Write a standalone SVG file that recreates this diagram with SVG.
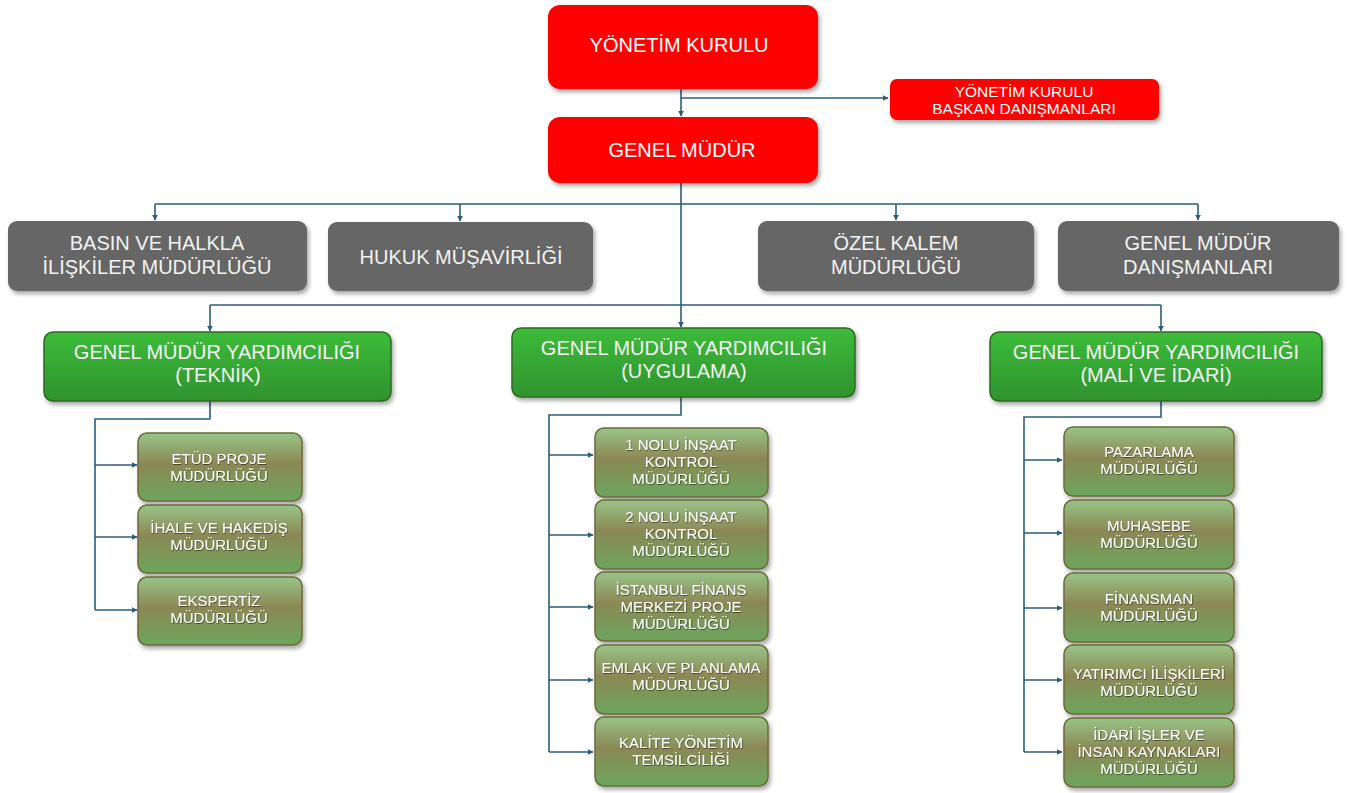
<svg xmlns="http://www.w3.org/2000/svg" width="1349" height="793" viewBox="0 0 1349 793">
<defs>
<filter id="sh" x="-10%" y="-20%" width="125%" height="150%">
<feDropShadow dx="2" dy="3" stdDeviation="2" flood-color="#000" flood-opacity="0.35"/>
</filter>
<filter id="ts" x="-10%" y="-30%" width="120%" height="160%">
<feDropShadow dx="0.6" dy="0.8" stdDeviation="0.5" flood-color="#000" flood-opacity="0.6"/>
</filter>
<linearGradient id="gG" x1="0" y1="0" x2="0" y2="1">
<stop offset="0" stop-color="#3dbb3a"/>
<stop offset="1" stop-color="#2f932e"/>
</linearGradient>
<linearGradient id="gO" x1="0" y1="0" x2="0" y2="1">
<stop offset="0" stop-color="#98c488"/>
<stop offset="0.45" stop-color="#8b8855"/>
<stop offset="1" stop-color="#6ca65d"/>
</linearGradient>
<marker id="ar" viewBox="0 0 10 10" refX="9" refY="5" markerWidth="6" markerHeight="6" markerUnits="userSpaceOnUse" orient="auto">
<path d="M0,0 L10,5 L0,10 z" fill="#2a5d7c"/>
</marker>
<style>
.red{fill:#ff0000;filter:url(#sh)}
.gray{fill:#666666;filter:url(#sh)}
.grn{fill:url(#gG);stroke:#2c6a22;stroke-width:1.5;filter:url(#sh)}
.olv{fill:url(#gO);stroke:#6d6a3a;stroke-width:1.5;filter:url(#sh)}
text{font-family:"Liberation Sans",Arial,sans-serif;fill:#ffffff;text-anchor:middle}
.t20{font-size:20px}
.tgr{font-size:20px;fill:#f4f4f4}
.tg{font-size:20px;fill:#f2f2f2}
.t15{font-size:15.5px}
.to{font-size:15px;filter:url(#ts)}
.ln{fill:none;stroke:#2a5d7c;stroke-width:1.6}
.la{fill:none;stroke:#2a5d7c;stroke-width:1.6;marker-end:url(#ar)}
</style>
</defs>

<g id="connectors">
<path class="la" d="M681,89 V116"/>
<path class="la" d="M681,98 H888"/>
<path class="ln" d="M681,183 V305"/>
<path class="ln" d="M155,204 H1198"/>
<path class="la" d="M155,204 V220"/>
<path class="la" d="M460,204 V221"/>
<path class="la" d="M896,204 V220"/>
<path class="la" d="M1198,204 V220"/>
<path class="ln" d="M210,305 H1161"/>
<path class="la" d="M210,305 V331"/>
<path class="la" d="M681,305 V327"/>
<path class="la" d="M1161,305 V331"/>
<path class="ln" d="M210,401 V419 H95 V610"/>
<path class="la" d="M95,465 H137"/>
<path class="la" d="M95,537 H137"/>
<path class="la" d="M95,610 H137"/>
<path class="ln" d="M681,397 V415 H549 V752"/>
<path class="la" d="M549,455 H593"/>
<path class="la" d="M549,535 H593"/>
<path class="la" d="M549,607 H593"/>
<path class="la" d="M549,680 H593"/>
<path class="la" d="M549,752 H593"/>
<path class="ln" d="M1161,401 V417 H1024 V752"/>
<path class="la" d="M1024,460 H1062"/>
<path class="la" d="M1024,533 H1062"/>
<path class="la" d="M1024,608 H1062"/>
<path class="la" d="M1024,680 H1062"/>
<path class="la" d="M1024,752 H1062"/>
</g>

<g id="n-yk"><rect class="red" x="548" y="5" width="270" height="84" rx="12"/><text class="t20" x="679" y="52">YÖNETİM KURULU</text></g>
<g id="n-ykbd"><rect class="red" x="890" y="79" width="269" height="41" rx="7"/><text class="t15" x="1024" y="97">YÖNETİM KURULU</text><text class="t15" x="1024" y="114">BAŞKAN DANIŞMANLARI</text></g>
<g id="n-gm"><rect class="red" x="548" y="117" width="270" height="66" rx="12"/><text class="t20" x="682" y="157">GENEL MÜDÜR</text></g>

<g id="n-basin"><rect class="gray" x="8" y="221" width="299" height="70" rx="9"/><text class="tg" x="157" y="250">BASIN VE HALKLA</text><text class="tg" x="157" y="274">İLİŞKİLER MÜDÜRLÜĞÜ</text></g>
<g id="n-hukuk"><rect class="gray" x="328" y="222" width="265" height="69" rx="9"/><text class="tg" x="461" y="264">HUKUK MÜŞAVİRLİĞİ</text></g>
<g id="n-ozel"><rect class="gray" x="758" y="221" width="276" height="70" rx="9"/><text class="tg" x="896" y="250">ÖZEL KALEM</text><text class="tg" x="896" y="274">MÜDÜRLÜĞÜ</text></g>
<g id="n-gmd"><rect class="gray" x="1058" y="221" width="281" height="70" rx="9"/><text class="tg" x="1198" y="250">GENEL MÜDÜR</text><text class="tg" x="1198" y="274">DANIŞMANLARI</text></g>

<g id="n-gmy1"><rect class="grn" x="44" y="332" width="347" height="69" rx="9"/><text class="tgr" x="217" y="359">GENEL MÜDÜR YARDIMCILIĞI</text><text class="tgr" x="218" y="382">(TEKNİK)</text></g>
<g id="n-gmy2"><rect class="grn" x="512" y="328" width="343" height="69" rx="9"/><text class="tgr" x="684" y="355">GENEL MÜDÜR YARDIMCILIĞI</text><text class="tgr" x="684" y="378">(UYGULAMA)</text></g>
<g id="n-gmy3"><rect class="grn" x="990" y="332" width="332" height="69" rx="9"/><text class="tgr" x="1156" y="359">GENEL MÜDÜR YARDIMCILIĞI</text><text class="tgr" x="1156" y="382">(MALİ VE İDARİ)</text></g>

<g id="n-etud"><rect class="olv" x="138" y="433" width="164" height="68" rx="9"/><text class="to" x="219" y="464">ETÜD PROJE</text><text class="to" x="219" y="481">MÜDÜRLÜĞÜ</text></g>
<g id="n-ihale"><rect class="olv" x="138" y="505" width="164" height="68" rx="9"/><text class="to" x="219" y="533">İHALE VE HAKEDİŞ</text><text class="to" x="219" y="550">MÜDÜRLÜĞÜ</text></g>
<g id="n-eksp"><rect class="olv" x="138" y="577" width="164" height="68" rx="9"/><text class="to" x="219" y="606">EKSPERTİZ</text><text class="to" x="219" y="623">MÜDÜRLÜĞÜ</text></g>

<g id="n-ink1"><rect class="olv" x="595" y="428" width="173" height="69" rx="9"/><text class="to" x="681" y="450">1 NOLU İNŞAAT</text><text class="to" x="681" y="467">KONTROL</text><text class="to" x="681" y="484">MÜDÜRLÜĞÜ</text></g>
<g id="n-ink2"><rect class="olv" x="595" y="500" width="173" height="69" rx="9"/><text class="to" x="681" y="522">2 NOLU İNŞAAT</text><text class="to" x="681" y="539">KONTROL</text><text class="to" x="681" y="556">MÜDÜRLÜĞÜ</text></g>
<g id="n-ifm"><rect class="olv" x="595" y="572" width="173" height="69" rx="9"/><text class="to" x="681" y="595">İSTANBUL FİNANS</text><text class="to" x="681" y="612">MERKEZİ PROJE</text><text class="to" x="681" y="629">MÜDÜRLÜĞÜ</text></g>
<g id="n-emlak"><rect class="olv" x="595" y="645" width="173" height="69" rx="9"/><text class="to" x="681" y="673">EMLAK VE PLANLAMA</text><text class="to" x="681" y="690">MÜDÜRLÜĞÜ</text></g>
<g id="n-kalite"><rect class="olv" x="595" y="717" width="173" height="69" rx="9"/><text class="to" x="681" y="748">KALİTE YÖNETİM</text><text class="to" x="681" y="765">TEMSİLCİLİĞİ</text></g>

<g id="n-paz"><rect class="olv" x="1064" y="427" width="170" height="69" rx="9"/><text class="to" x="1149" y="457">PAZARLAMA</text><text class="to" x="1149" y="474">MÜDÜRLÜĞÜ</text></g>
<g id="n-muh"><rect class="olv" x="1064" y="500" width="170" height="69" rx="9"/><text class="to" x="1149" y="531">MUHASEBE</text><text class="to" x="1149" y="548">MÜDÜRLÜĞÜ</text></g>
<g id="n-fin"><rect class="olv" x="1064" y="573" width="170" height="69" rx="9"/><text class="to" x="1149" y="604">FİNANSMAN</text><text class="to" x="1149" y="621">MÜDÜRLÜĞÜ</text></g>
<g id="n-yat"><rect class="olv" x="1064" y="645" width="170" height="69" rx="9"/><text class="to" x="1149" y="679">YATIRIMCI İLİŞKİLERİ</text><text class="to" x="1149" y="696">MÜDÜRLÜĞÜ</text></g>
<g id="n-idari"><rect class="olv" x="1064" y="718" width="170" height="69" rx="9"/><text class="to" x="1149" y="740">İDARİ İŞLER VE</text><text class="to" x="1149" y="757">İNSAN KAYNAKLARI</text><text class="to" x="1149" y="774">MÜDÜRLÜĞÜ</text></g>
</svg>
